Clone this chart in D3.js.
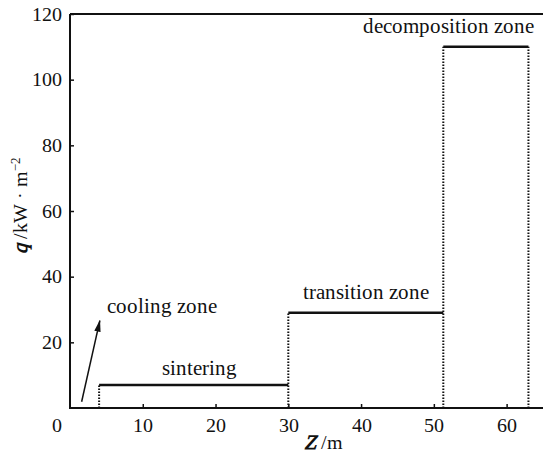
<!DOCTYPE html>
<html>
<head>
<meta charset="utf-8">
<script src="https://cdn.jsdelivr.net/npm/d3@7"></script>
<style>
  @font-face { font-family: "ChartSerif"; src: local("Liberation Serif"), local("LiberationSerif"), local("Tinos"), local("Nimbus Roman"), local("FreeSerif"); }
  body { margin: 0; background: #fff; }
</style>
</head>
<body>
<div class="curr-graff"></div>
<script>
// zone boundaries (m) and heat flux (kW/m2)
const zoneStart = [4, 30, 51.3];
const zoneEnd = [30, 51.3, 63];
const zoneQ = [7, 29, 110];
const zoneNames = ["sintering", "transition zone", "decomposition zone"];
const xTicks = [10, 20, 30, 40, 50, 60];
const yTicks = [20, 40, 60, 80, 100, 120];
// arrow pointing at the cooling zone
const arrowFrom = [1.6, 1.9];
const arrowTo = [4.1, 26.6];

const width = 544, height = 454;
const serif = "ChartSerif, 'Liberation Serif', 'Nimbus Roman', FreeSerif, 'Noto Serif CJK SC', serif";
const baseSize = "17px";

const svg = d3.select(".curr-graff")
    .append("svg")
    .attr("width", width)
    .attr("height", height);

const xScale = d3.scaleLinear().domain([0, 65]).range([70, 543]);
const yScale = d3.scaleLinear().domain([0, 120]).range([408, 14]);

// axes with short inward ticks
const xAxis = d3.axisBottom(xScale).tickValues(xTicks).tickSize(-4).tickPadding(9);
const yAxis = d3.axisLeft(yScale).tickValues(yTicks).tickSize(-4).tickPadding(7);

const gx = svg.append("g")
    .attr("transform", "translate(0,408)")
    .call(xAxis);
const gy = svg.append("g")
    .attr("transform", "translate(70,0)")
    .call(yAxis);

[gx, gy].forEach(g => {
    g.attr("font-family", serif);
    g.select(".domain").remove();
    g.selectAll(".tick line").attr("stroke", "#111").attr("stroke-width", 1.5);
    g.selectAll(".tick text")
        .style("font-family", serif)
        .style("font-size", baseSize)
        .attr("fill", "#111")
        .attr("transform", "scale(1.15)");
});

function label(x, y, txt, anchor, s, rot) {
    let g = svg.append("g")
        .attr("transform", "translate(" + x + "," + y + ")" + (rot ? " rotate(" + rot + ")" : "") + " scale(" + s + ")");
    return g.append("text")
        .attr("text-anchor", anchor || "start")
        .attr("fill", "#111")
        .style("font-family", serif)
        .style("font-size", baseSize)
        .text(txt);
}

// origin label sits left of the corner
label(xScale(0) - 13, 432, "0", "middle", 1.15);

// frame
svg.append("path")
    .attr("d", "M" + xScale(0) + "," + yScale(120) + "V" + yScale(0) + "H" + xScale(65))
    .attr("fill", "none").attr("stroke", "#111").attr("stroke-width", 2);
svg.append("line")
    .attr("x1", xScale(0)).attr("x2", xScale(65))
    .attr("y1", yScale(120)).attr("y2", yScale(120))
    .attr("stroke", "#111").attr("stroke-width", 2);

// solid tops of each zone
svg.selectAll("line.top")
    .data(zoneQ)
    .enter()
    .append("line")
    .attr("class", "top")
    .attr("x1", (d, i) => xScale(zoneStart[i]))
    .attr("x2", (d, i) => xScale(zoneEnd[i]))
    .attr("y1", d => yScale(d))
    .attr("y2", d => yScale(d))
    .attr("stroke", "#111")
    .attr("stroke-width", 2.5);

// dotted sides
const sides = [];
zoneQ.forEach((q, i) => {
    sides.push({x: zoneStart[i], q: q});
});
sides.push({x: zoneEnd[2], q: zoneQ[2]});

svg.selectAll("line.side")
    .data(sides)
    .enter()
    .append("line")
    .attr("class", "side")
    .attr("x1", d => xScale(d.x))
    .attr("x2", d => xScale(d.x))
    .attr("y1", yScale(0))
    .attr("y2", d => yScale(d.q))
    .attr("stroke", "#111")
    .attr("stroke-width", 2)
    .attr("stroke-dasharray", "1.5,1.5");

// zone labels
label(xScale(zoneStart[0]) + 63, yScale(zoneQ[0]) - 10, zoneNames[0], "start", 1.25);
label(xScale(zoneStart[1]) + 15, yScale(zoneQ[1]) - 14, zoneNames[1], "start", 1.25);
label(xScale(zoneEnd[2]) + 6, yScale(zoneQ[2]) - 14, zoneNames[2], "end", 1.25);
label(xScale(arrowTo[0]) + 7, yScale(arrowTo[1]) - 8, "cooling zone", "start", 1.25);

// arrow
svg.append("defs").append("marker")
    .attr("id", "head")
    .attr("viewBox", "0 0 12 8")
    .attr("refX", 11).attr("refY", 4)
    .attr("markerWidth", 12).attr("markerHeight", 8)
    .attr("markerUnits", "userSpaceOnUse")
    .attr("orient", "auto")
    .append("path")
    .attr("d", "M0,0.8 L12,4 L0,7.2 Z")
    .attr("fill", "#111");

svg.append("line")
    .attr("x1", xScale(arrowFrom[0])).attr("y1", yScale(arrowFrom[1]))
    .attr("x2", xScale(arrowTo[0])).attr("y2", yScale(arrowTo[1]))
    .attr("stroke", "#111").attr("stroke-width", 1.5)
    .attr("marker-end", "url(#head)");

// axis titles
const xt = label(323, 449, "", "middle", 1.2);
xt.append("tspan").style("font-style", "italic").style("font-weight", "bold").text("Z");
xt.append("tspan").text(" /m");

const yt = label(27, 205, "", "middle", 1.2, -90);
yt.append("tspan").style("font-style", "italic").style("font-weight", "bold").text("q");
yt.append("tspan").text(" /kW · m");
yt.append("tspan").attr("dy", -6).style("font-size", "11px").text("−2");
</script>
</body>
</html>
